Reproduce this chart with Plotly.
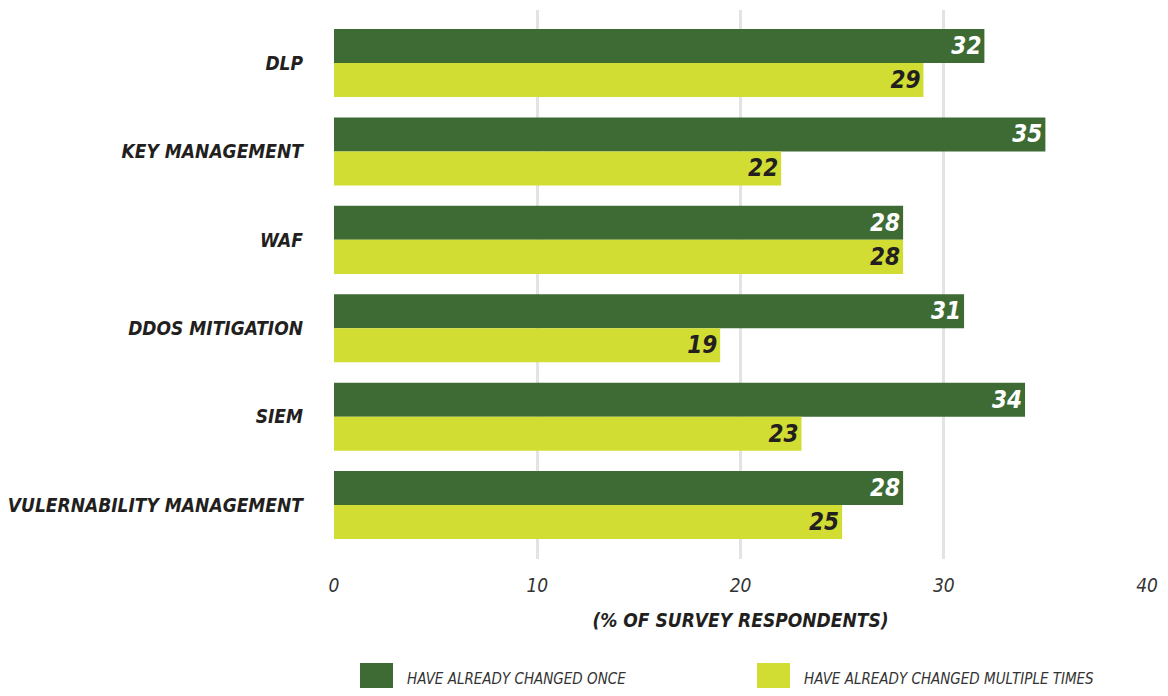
import plotly.graph_objects as go

categories = ["DLP", "KEY MANAGEMENT", "WAF", "DDOS MITIGATION", "SIEM", "VULERNABILITY MANAGEMENT"]
changed_once = [32, 35, 28, 31, 34, 28]
changed_multiple = [29, 22, 28, 19, 23, 25]
series_names = ["HAVE ALREADY CHANGED ONCE", "HAVE ALREADY CHANGED MULTIPLE TIMES"]
x_ticks = [0, 10, 20, 30, 40]

DARK = "#3d6b33"
LIGHT = "#d2dd33"
TEXT = "#231f20"
FONT = "DejaVu Sans Condensed, Liberation Sans Narrow, sans-serif"

# page body has an 8px margin; figure is sized so the page fits 1168x696 exactly
OFF = 8
PL, PR, PT, PB = 334, 1147, 10, 559  # plot area in page pixels

fig = go.Figure()
fig.add_trace(go.Bar(
    y=categories, x=changed_once, orientation="h", name=series_names[0],
    marker=dict(color=DARK, line=dict(width=0)),
    text=[str(v) for v in changed_once], textposition="inside", insidetextanchor="end",
    textfont=dict(family=FONT, size=24, color="white", weight="bold", style="italic"),
    cliponaxis=False, showlegend=False,
))
fig.add_trace(go.Bar(
    y=categories, x=changed_multiple, orientation="h", name=series_names[1],
    marker=dict(color=LIGHT, line=dict(width=0)),
    text=[str(v) for v in changed_multiple], textposition="inside", insidetextanchor="end",
    textfont=dict(family=FONT, size=24, color=TEXT, weight="bold", style="italic"),
    cliponaxis=False, showlegend=False,
))

W, H = 1168 - 2 * OFF, 696 - 2 * OFF
fig.update_layout(
    width=W, height=H,
    barmode="group", bargap=0.23, bargroupgap=0,
    plot_bgcolor="white", paper_bgcolor="white",
    margin=dict(l=PL - OFF, r=1168 - PR - OFF, t=PT - OFF, b=696 - PB - OFF, autoexpand=False),
    uniformtext=dict(minsize=24, mode="show"),
    xaxis=dict(
        range=[0, 40], tickvals=x_ticks, showgrid=True, gridcolor="#e3e3e3", gridwidth=3,
        zeroline=False, showline=False, ticks="", ticklabelstandoff=13, automargin=False,
        tickfont=dict(family=FONT, size=19, color="#333333", style="italic"),
        title=dict(text="(% OF SURVEY RESPONDENTS)", standoff=18,
                   font=dict(family=FONT, size=19, color=TEXT, weight="bold", style="italic")),
    ),
    yaxis=dict(
        range=[5.61, -0.6], showgrid=False, ticks="", ticklabelstandoff=30, automargin=False,
        tickfont=dict(family=FONT, size=19, color=TEXT, weight="bold", style="italic"),
    ),
    showlegend=False,
)

# custom legend (large swatches), positioned in page pixels relative to plot area
pw, ph = PR - PL, PB - PT
legend_items = [(360, DARK, series_names[0]), (757, LIGHT, series_names[1])]
for x0, col, name in legend_items:
    fig.add_shape(type="rect", xref="paper", yref="paper",
                  x0=(x0 - PL) / pw, x1=(x0 + 33 - PL) / pw,
                  y0=(PB - 663) / ph, y1=(PB - 700) / ph,
                  fillcolor=col, line=dict(width=0))
    fig.add_annotation(xref="paper", yref="paper", x=(x0 + 45 - PL) / pw, y=(PB - 679) / ph,
                       text=name, showarrow=False, xanchor="left", yanchor="middle",
                       font=dict(family=FONT, size=15, color="#333333", style="italic"))

fig.write_html("out.html")
